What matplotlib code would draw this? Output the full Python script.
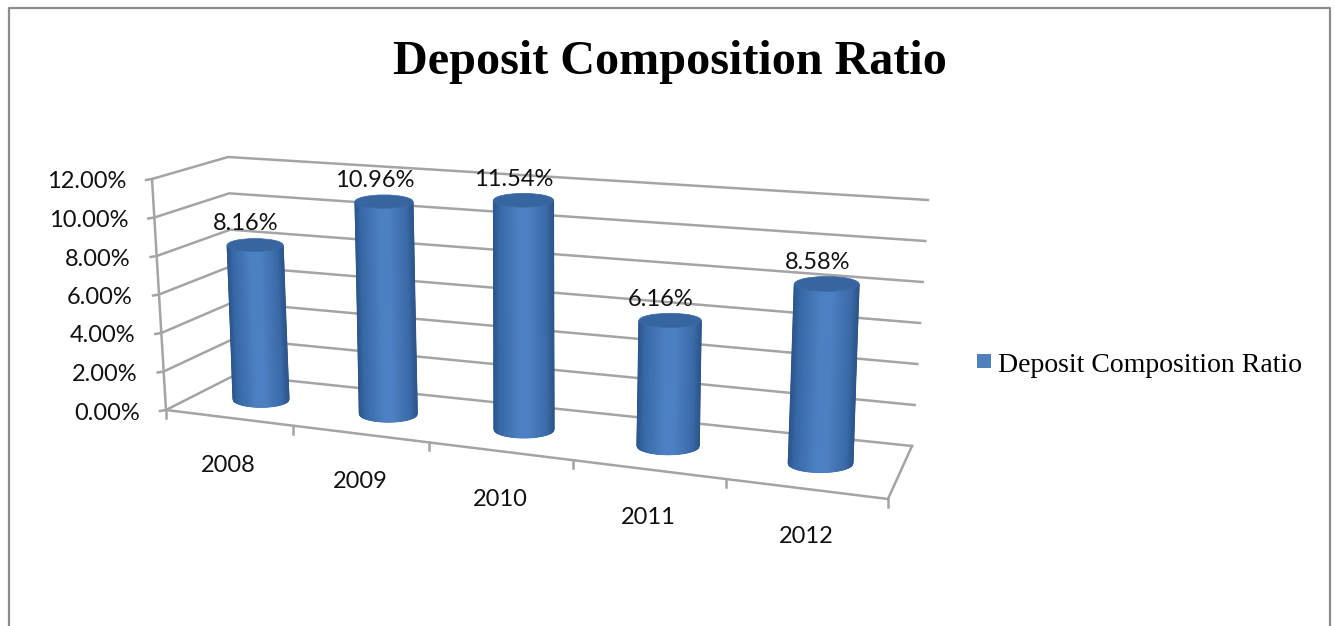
import numpy as np
import matplotlib
matplotlib.use("Agg")
import matplotlib.pyplot as plt
from matplotlib.colors import LinearSegmentedColormap
from matplotlib.patches import Ellipse, Rectangle

years = ["2008", "2009", "2010", "2011", "2012"]
ratios = [8.16, 10.96, 11.54, 6.16, 8.58]
y_ticks = [0, 2, 4, 6, 8, 10, 12]
y_labels = ["0.00%", "2.00%", "4.00%", "6.00%", "8.00%", "10.00%", "12.00%"]
series_name = "Deposit Composition Ratio"

GRID = "#a4a4a4"
INK = "#111111"
SANS = "Lato"
SERIF = "Liberation Serif"

# box corners in pixels: (u, v) with v=0 at the front
floor = np.array([[(166, 410), (888, 499)], [(235, 375), (912, 446)]], float)
roof = np.array([[(152, 179), (894, 236)], [(228, 157), (928, 200)]], float)

bar_map = LinearSegmentedColormap.from_list("bar", [
    (0.0, "#2c568c"), (0.1, "#3868a6"), (0.42, "#4c80c2"),
    (0.6, "#4c80c2"), (0.9, "#3a69a5"), (1.0, "#2c568c")])


def warp(u):
    # categories get wider to the right
    return 0.85 * u + 0.15 * u ** 2


def project(u, v, value):
    s = warp(u)
    def corner(box):
        front = box[0, 0] + (box[0, 1] - box[0, 0]) * s
        back = box[1, 0] + (box[1, 1] - box[1, 0]) * s
        return front + (back - front) * v
    f = corner(floor)
    r = corner(roof)
    return f + (r - f) * value / 12.0


def cylinder(ax, u, value):
    base = project(u, 0.5, 0)
    top = project(u, 0.5, value)
    half = 27.5 + 5.5 * warp(u)
    b_top = half * 0.23
    b_low = half * 0.28
    ts = np.linspace(-1, 1, 81)
    d = np.sqrt(1 - ts ** 2)
    X = np.array([top[0] + half * ts, base[0] + half * ts])
    Y = np.array([top[1] + b_top * d, base[1] + b_low * d])
    C = np.array([ts, ts])
    ax.pcolormesh(X, Y, C, cmap=bar_map, shading="gouraud", vmin=-1, vmax=1, zorder=3)
    ax.add_patch(Ellipse(top, half * 2, b_top * 2, fc="#36659f", ec="#3a6ba8", lw=0.5, zorder=4))
    ax.text(top[0] - 9.5, top[1] - 21, f"{value:.2f}%", family=SANS, fontsize=17,
            color=INK, ha="center", va="center", zorder=5)


fig = plt.figure(figsize=(13.35, 6.26), dpi=100)
ax = fig.add_axes([0, 0, 1, 1])
ax.set_xlim(0, 1335)
ax.set_ylim(626, 0)
ax.axis("off")

# chart frame, bottom is cut off
ax.plot([9, 9, 1330, 1330], [626, 8, 8, 626], color="#8c8c8c", lw=1.6)

ax.text(670, 62, series_name, family=SERIF, weight="bold", fontsize=34.7,
        ha="center", va="center", color="black")

# gridlines on back wall and side wall
for tick, label in zip(y_ticks, y_labels):
    front = project(0, 0, tick)
    back = project(0, 1, tick)
    right = project(1, 1, tick)
    ax.plot([front[0] - 6, front[0], back[0], right[0]],
            [front[1] + 1, front[1], back[1], right[1]], color=GRID, lw=1.8, zorder=1)
    ax.text(front[0] - 26, front[1] + 3, label, family=SANS, fontsize=17,
            color=INK, ha="right", va="center")

# axis lines
p = [project(0, 0, 0), project(0, 0, 12)]
ax.plot([p[0][0], p[1][0]], [p[0][1], p[1][1]], color=GRID, lw=1.8, zorder=1)
p = [project(0, 0, 0), project(1, 0, 0), project(1, 1, 0)]
ax.plot([q[0] for q in p], [q[1] for q in p], color=GRID, lw=1.8, zorder=1)

for i in range(len(years) + 1):
    q = project(i / len(years), 0, 0)
    ax.plot([q[0], q[0]], [q[1], q[1] + 8], color=GRID, lw=1.8, zorder=1)

for i, (year, value) in enumerate(zip(years, ratios)):
    u = (i + 0.5) / len(years)
    cylinder(ax, u, value)
    q = project(u, 0, 0)
    ax.text(q[0], q[1] + 48, year, family=SANS, fontsize=17, color=INK,
            ha="center", va="center")

ax.add_patch(Rectangle((977, 354), 14, 14, fc="#4f81bd", ec="none"))
ax.text(998, 366, series_name, family=SERIF, fontsize=20, color="black",
        ha="left", va="center")

fig.savefig("out.png", dpi=100)
